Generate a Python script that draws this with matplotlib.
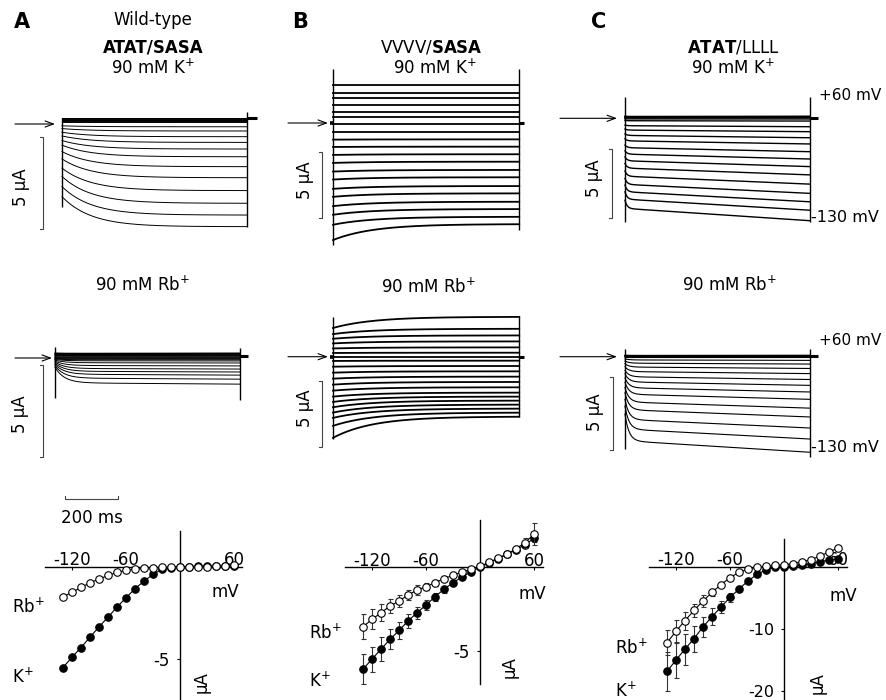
import numpy as np
import matplotlib
matplotlib.use("Agg")
import matplotlib.pyplot as plt

W, H = 887, 700
plt.rcParams['font.family'] = ['DejaVu Sans']
plt.rcParams['mathtext.fontset'] = 'dejavusans'

# ---------------- data ----------------
# test potentials of the current traces (mV)
step_mV = [60, 50, 40, 30, 20, 10, 0, -10, -20, -30, -40, -50, -60, -70, -80, -90, -100, -110, -120, -130]
pulse_ms = 700

# A, 90 mM K+ : current at pulse start / end (uA)
a_k_start = [0.33, 0.3, 0.27, 0.24, 0.22, 0.2, 0.17, 0.1, -0.1, -0.25, -0.45, -0.65, -0.9, -1.15, -1.5, -1.9, -2.4, -2.85, -3.4, -3.95]
a_k_end = [0.33, 0.3, 0.27, 0.24, 0.22, 0.2, 0.17, 0.1, -0.15, -0.38, -0.69, -1.0, -1.36, -1.78, -2.32, -2.92, -3.62, -4.31, -4.95, -5.58]
# A, 90 mM Rb+
a_rb_start = [0.27, 0.25, 0.22, 0.2, 0.17, 0.14, 0.1, 0.06, 0.02, 0.0, -0.02, -0.05, -0.08, -0.12, -0.17, -0.22, -0.28, -0.35, -0.42, -0.5]
a_rb_end = [0.27, 0.25, 0.22, 0.2, 0.17, 0.14, 0.1, 0.06, 0.02, -0.02, -0.06, -0.1, -0.16, -0.27, -0.43, -0.6, -0.76, -0.93, -1.15, -1.42]
# B, 90 mM K+
b_k_start = [2.86, 2.23, 1.86, 1.35, 0.85, 0.43, -0.1, -0.65, -1.25, -1.8, -2.4, -3.0, -3.65, -4.25, -4.95, -5.55, -6.25, -6.9, -7.65, -8.8]
b_k_end = [2.86, 2.23, 1.86, 1.35, 0.85, 0.43, -0.1, -0.65, -1.23, -1.78, -2.35, -2.91, -3.53, -4.08, -4.74, -5.29, -5.92, -6.47, -7.05, -7.6]
# B, 90 mM Rb+
b_rb_start = [2.16, 1.7, 1.35, 1.0, 0.62, 0.28, 0.0, -0.32, -0.75, -1.2, -1.65, -2.1, -2.55, -3.0, -3.4, -3.8, -4.2, -4.6, -5.2, -6.1]
b_rb_end = [3.0, 2.1, 1.6, 1.15, 0.7, 0.3, 0.0, -0.3, -0.7, -1.1, -1.5, -1.9, -2.3, -2.7, -3.0, -3.3, -3.6, -3.9, -4.2, -4.5]
# C, 90 mM K+
c_k_start = [0.15, 0.12, 0.1, 0.07, 0.03, -0.04, -0.16, -0.49, -0.78, -1.13, -1.49, -1.94, -2.36, -2.8, -3.28, -3.82, -4.35, -4.84, -5.33, -5.94]
c_k_end = [0.15, 0.12, 0.1, 0.07, 0.03, -0.05, -0.2, -0.61, -0.97, -1.41, -1.86, -2.42, -2.95, -3.5, -4.1, -4.77, -5.44, -6.05, -6.66, -7.42]
# C, 90 mM Rb+
c_rb_start = [0.1, 0.08, 0.06, 0.04, 0.02, 0.0, -0.03, -0.15, -0.3, -0.48, -0.69, -0.93, -1.17, -1.44, -1.74, -2.1, -2.46, -2.91, -3.36, -3.9]
c_rb_end = [0.1, 0.08, 0.06, 0.04, 0.02, 0.0, -0.05, -0.25, -0.5, -0.8, -1.15, -1.55, -1.95, -2.4, -2.9, -3.5, -4.1, -4.85, -5.6, -6.5]

# I-V relations (mV, uA)
iv_mV = [-130, -120, -110, -100, -90, -80, -70, -60, -50, -40, -30, -20, -10, 0, 10, 20, 30, 40, 50, 60]
ivA_k = [-5.45, -4.89, -4.37, -3.81, -3.25, -2.73, -2.18, -1.68, -1.19, -0.78, -0.42, -0.14, -0.05, 0.0, 0.01, 0.02, 0.02, 0.03, 0.04, 0.05]
ivA_rb = [-1.62, -1.39, -1.12, -0.87, -0.67, -0.47, -0.31, -0.2, -0.13, -0.09, -0.05, -0.03, -0.02, 0.0, 0.0, 0.0, 0.01, 0.02, 0.04, 0.07]
ivB_k = [-6.1, -5.5, -4.9, -4.32, -3.78, -3.22, -2.72, -2.26, -1.76, -1.32, -0.92, -0.58, -0.26, 0.0, 0.28, 0.52, 0.78, 1.05, 1.35, 1.74]
ivB_k_err = [0.9, 0.75, 0.7, 0.6, 0.5, 0.42, 0.35, 0.3, 0.25, 0.2, 0.15, 0.1, 0.05, 0.03, 0.04, 0.05, 0.07, 0.1, 0.15, 0.22]
ivB_rb = [-3.56, -3.12, -2.72, -2.32, -2.02, -1.66, -1.36, -1.16, -0.92, -0.68, -0.48, -0.28, -0.12, 0.05, 0.3, 0.54, 0.8, 1.1, 1.48, 1.98]
ivB_rb_err = [0.75, 0.6, 0.5, 0.42, 0.36, 0.3, 0.28, 0.22, 0.18, 0.14, 0.1, 0.07, 0.05, 0.03, 0.05, 0.08, 0.12, 0.18, 0.3, 0.65]
ivC_k = [-16.9, -15.05, -13.3, -11.6, -9.7, -8.06, -6.5, -4.95, -3.6, -2.3, -1.24, -0.5, -0.1, 0.0, 0.15, 0.3, 0.5, 0.8, 1.07, 1.28]
ivC_k_err = [3.2, 2.9, 2.5, 2.1, 1.65, 1.35, 0.95, 0.7, 0.42, 0.3, 0.2, 0.1, 0.05, 0.03, 0.05, 0.05, 0.08, 0.1, 0.15, 0.2]
ivC_rb = [-12.26, -10.4, -8.7, -7.04, -5.54, -4.14, -2.9, -1.77, -0.9, -0.4, -0.1, 0.1, 0.2, 0.3, 0.5, 0.8, 1.15, 1.7, 2.4, 3.0]
ivC_rb_err = [2.0, 1.85, 1.45, 1.05, 0.95, 0.62, 0.42, 0.3, 0.2, 0.15, 0.1, 0.05, 0.05, 0.05, 0.05, 0.08, 0.1, 0.15, 0.2, 0.3]

iv_xticks = [-120, -60, 60]
iv_xticklabels = ['-120', '-60', '60']

# ---------------- figure ----------------
fig = plt.figure(figsize=(W / 100, H / 100), dpi=100)


def full_axes(x0, y0, sx, sy):
    """Axes covering the figure; data origin at pixel (x0, y0), sx/sy px per unit."""
    ax = fig.add_axes([0, 0, 1, 1])
    ax.set_xlim(-x0 / sx, (W - x0) / sx)
    ax.set_ylim((y0 - H) / sy, y0 / sy)
    ax.patch.set_visible(False)
    return ax


def ftext(x, y, s, **kw):
    kw.setdefault('ha', 'center')
    kw.setdefault('va', 'center')
    kw.setdefault('fontsize', 12)
    fig.text(x / W, 1 - y / H, s, **kw)


def farrow(x1, x2, y):
    fig.patches.append(matplotlib.patches.FancyArrowPatch(
        (x1 / W, 1 - y / H), (x2 / W, 1 - y / H), transform=fig.transFigure,
        arrowstyle='->,head_length=0.6,head_width=0.22', mutation_scale=10,
        lw=0.8, color='black', shrinkA=0, shrinkB=0))


def trace_panel(x0, y0, sx, sy, start, end, tau, slope, lw, on_span, off_span,
                hold, tail_ms, lead_ms, bar_t, bar_top):
    ax = full_axes(x0, y0, sx, sy)
    ax.set_axis_off()
    t = np.linspace(0, pulse_ms, 600)
    for i0, i1 in zip(start, end):
        ss = i1 * (1 - slope * (1 - t / pulse_ms))
        cur = ss + (i0 - ss[0]) * np.exp(-t / tau)
        ax.plot(t, cur, color='black', lw=lw, solid_joinstyle='round')
    ax.vlines([0], on_span[0], on_span[1], color='black', lw=1.0)
    ax.vlines([pulse_ms], off_span[0], off_span[1], color='black', lw=1.0)
    ax.hlines([hold], pulse_ms, pulse_ms + tail_ms, color='black', lw=2.2)
    if lead_ms:
        ax.hlines([hold], -lead_ms, 0, color='black', lw=2.6)
    tk = 3 / sx
    ax.plot([bar_t - tk, bar_t, bar_t, bar_t - tk],
            [bar_top, bar_top, bar_top - 5, bar_top - 5], color='#444444', lw=0.8)
    return ax


# A
axA1 = trace_panel(62, 124, 0.264, 18.4, a_k_start, a_k_end, 110, 0.0, 0.7,
                   (0.33, -4.5), (0.65, -5.6), 0.3, 38, 0, -72, -0.7)
axA2 = trace_panel(55, 358, 0.264, 18.4, a_rb_start, a_rb_end, 35, 0.05, 0.7,
                   (0.6, -2.2), (0.54, -2.3), 0.1, 30, 0, -47, -0.38)
# B
axB1 = trace_panel(333, 123, 0.266, 13.3, b_k_start, b_k_end, 150, 0.0, 1.3,
                   (4.06, -9.17), (4.06, -8.05), 0.0, 18, 12, -42.5, -2.16)
axB2 = trace_panel(333, 356.7, 0.266, 13.3, b_rb_start, b_rb_end, 150, 0.0, 1.3,
                   (3.0, -6.2), (3.05, -4.5), 0.0, 18, 12, -42.5, -1.8)
# C
axC1 = trace_panel(625, 118.3, 0.264, 13.8, c_k_start, c_k_end, 8, 0.12, 1.0,
                   (1.57, -7.5), (1.57, -7.5), 0.05, 30, 0, -48, -2.25)
axC2 = trace_panel(625, 356.7, 0.264, 14.7, c_rb_start, c_rb_end, 15, 0.12, 0.8,
                   (0.52, -6.3), (0.52, -6.8), 0.05, 32, 0, -44, -1.36)

# 200 ms time scale bar (time scale of panel A)
axA1.plot([11, 11, 211, 211], [-20.2, -20.4, -20.4, -20.2], color='#444444', lw=0.8)
ftext(92, 518, '200 ms')

# baseline arrows
farrow(15, 55, 124)
farrow(15, 52, 358)
farrow(288, 328, 123)
farrow(288, 328, 356.7)
farrow(560, 617, 118.3)
farrow(560, 617, 356.7)

# 5 uA labels
for (x, y) in [(21, 187), (20, 414), (305, 180), (305, 408), (594, 178), (595, 412)]:
    ftext(x, y, '5 µA', rotation=90)

# headings
ftext(21.5, 22.5, 'A', fontsize=15, fontweight='bold')
ftext(300.5, 22.5, 'B', fontsize=15, fontweight='bold')
ftext(598.5, 22.5, 'C', fontsize=15, fontweight='bold')
ftext(153, 20, 'Wild-type')
ftext(153, 47, 'ATAT/SASA', fontweight='bold')
ftext(153, 68, '90 mM K$^{+}$')
ftext(431, 48, 'VVVV/$\\mathbf{SASA}$')
ftext(435, 68, '90 mM K$^{+}$')
ftext(733, 47, '$\\mathbf{ATAT}$/LLLL')
ftext(733, 68, '90 mM K$^{+}$')
ftext(143, 285, '90 mM Rb$^{+}$')
ftext(429, 287, '90 mM Rb$^{+}$')
ftext(730, 285, '90 mM Rb$^{+}$')
ftext(819, 95, '+60 mV', ha='left', fontsize=11)
ftext(811, 218, '-130 mV', ha='left', fontsize=11.5)
ftext(819, 340, '+60 mV', ha='left', fontsize=11)
ftext(811, 448, '-130 mV', ha='left', fontsize=11.5)


# ---------------- I-V plots ----------------
def iv_axes(x0, y0, sy, hb, vb, yticks, yticklabels):
    ax = full_axes(x0, y0, 0.9, sy)
    for s in ['top', 'right']:
        ax.spines[s].set_visible(False)
    for s in ['left', 'bottom']:
        ax.spines[s].set_position(('data', 0))
        ax.spines[s].set_linewidth(1.0)
    ax.spines['bottom'].set_bounds(*hb)
    ax.spines['left'].set_bounds(*vb)
    ax.set_xticks(iv_xticks)
    ax.set_xticklabels(iv_xticklabels)
    ax.set_yticks(yticks)
    ax.set_yticklabels(yticklabels)
    ax.tick_params(axis='x', direction='out', length=2.2, width=0.8, pad=-13.5, labelsize=12)
    ax.tick_params(axis='y', direction='out', length=2.2, width=0.8, pad=5, labelsize=12)
    return ax


def iv_series(ax, y, err, filled, z):
    ax.errorbar(iv_mV, y, yerr=err, fmt='o-', color='black', lw=0.8,
                ms=5.4, mew=0.8, mec='black', mfc='black' if filled else 'white',
                ecolor='#333333', elinewidth=0.8, capsize=1.8, zorder=z, clip_on=False)


axIA = iv_axes(180, 566.7, 18.5, (-150, 69), (1.93, -7.2), [-5], ['-5'])
iv_series(axIA, ivA_k, None, True, 3)
iv_series(axIA, ivA_rb, None, False, 4)
axIB = iv_axes(480, 567.3, 16.7, (-150, 70), (2.83, -7.0), [-5], ['-5'])
iv_series(axIB, ivB_k, ivB_k_err, True, 3)
iv_series(axIB, ivB_rb, ivB_rb_err, False, 4)
axIC = iv_axes(784, 566.7, 6.2, (-150, 70), (4.47, -21.5), [-10, -20], ['-10', '-20'])
axIC.tick_params(axis='y', labelsize=11.5)
iv_series(axIC, ivC_k, ivC_k_err, True, 3)
iv_series(axIC, ivC_rb, ivC_rb_err, False, 4)

for (xm, ym, xu, yu, xl, yr, yk) in [(225, 592, 202, 682, 12, 607, 677),
                                     (532, 594, 510, 667, 309, 633, 681),
                                     (843, 596, 818, 683, 615, 648, 691)]:
    ftext(xm, ym, 'mV')
    ftext(xu, yu, 'µA', rotation=90)
    ftext(xl, yr, 'Rb$^{+}$', ha='left')
    ftext(xl, yk, 'K$^{+}$', ha='left')

fig.savefig('out.png', dpi=100)
